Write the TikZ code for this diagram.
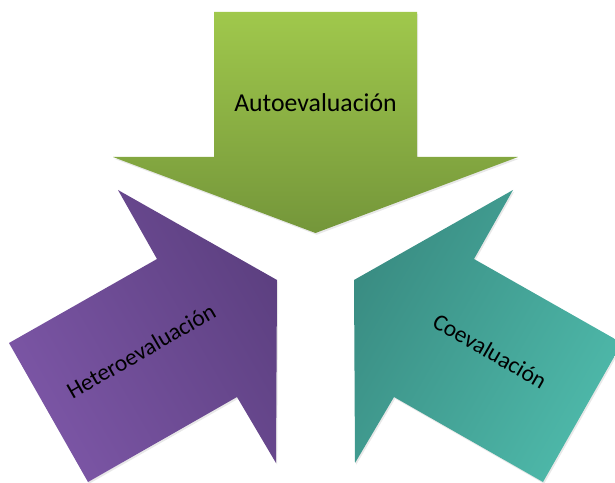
\documentclass[tikz,border=0pt]{standalone}
\usepackage{fontspec}
\setmainfont{Carlito}
\usetikzlibrary{shadows}

\definecolor{autoTop}{HTML}{A0C84C}
\definecolor{autoBot}{HTML}{74963A}
\definecolor{heteroLight}{HTML}{7C56A6}
\definecolor{heteroDark}{HTML}{5D4081}
\definecolor{coDark}{HTML}{3A8D83}
\definecolor{coLight}{HTML}{4EB9AA}

\tikzset{
    arrowshadow/.style={drop shadow={shadow xshift=1pt, shadow yshift=-1.5pt, opacity=0.18}},
    arrowlabel/.style={anchor=base, inner sep=0pt, text=black}
}

\begin{document}
\begin{tikzpicture}[x=0.03cm, y=-0.03cm]
    \useasboundingbox (0,0) rectangle (615,483);
    \clip (0,0) rectangle (615,483);

    % Green arrow pointing down
    \shade[top color=autoTop, bottom color=autoBot, arrowshadow]
    (214,12) -- (417,12) -- (417,157) -- (518,157) -- (315.5,233)
    -- (113,157) -- (214,157) -- cycle;

    % Purple arrow pointing up-right
    \shade[left color=heteroLight, right color=heteroDark, shading angle=120, arrowshadow]
    (9,343) -- (157,259) -- (118,190) -- (277,280) -- (276,463)
    -- (237,397) -- (88,482) -- cycle;

    % Teal arrow pointing up-left
    \shade[left color=coDark, right color=coLight, shading angle=60, arrowshadow]
    (622,343) -- (474,259) -- (513,190) -- (354,280) -- (355,463)
    -- (394,397) -- (543,482) -- cycle;

    \node[arrowlabel, font=\fontsize{22}{26}\selectfont] (auto) at (315.5,112) {Autoevaluación};
    \node[arrowlabel, font=\fontsize{20}{24}\selectfont, rotate=30] (hetero) at (145,358) {Heteroevaluación};
    \node[arrowlabel, font=\fontsize{20}{24}\selectfont, rotate=-30] (co) at (486,358) {Coevaluación};
\end{tikzpicture}
\end{document}
